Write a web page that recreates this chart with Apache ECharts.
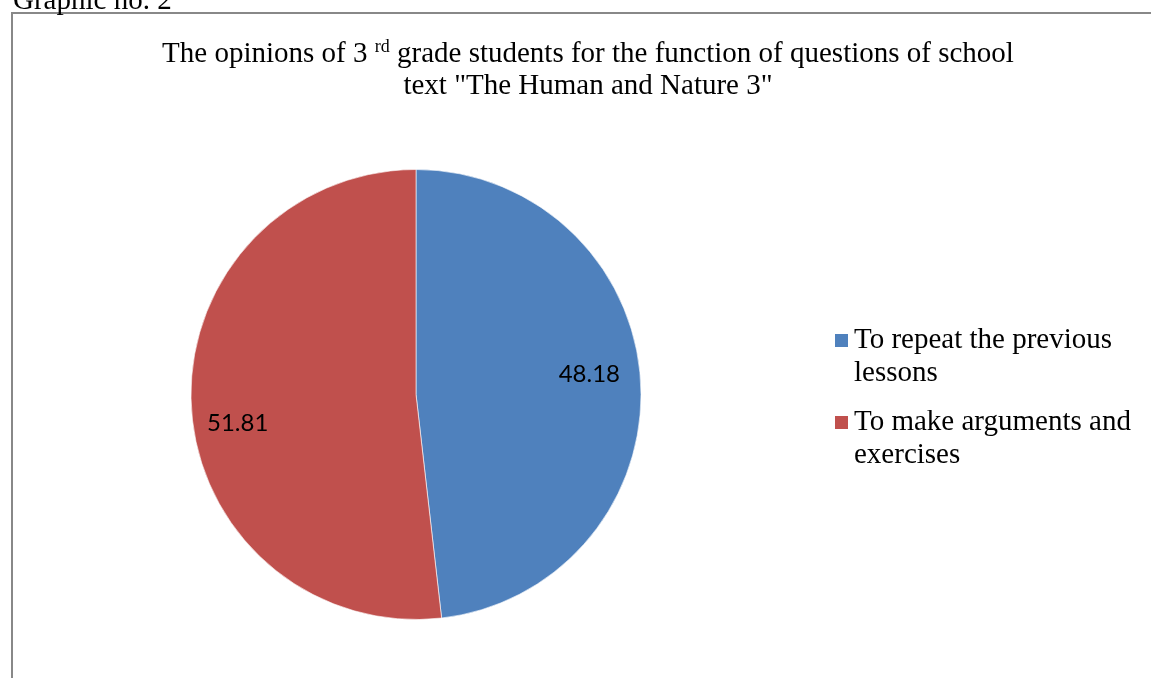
<!DOCTYPE html>
<html>
<head>
<meta charset="utf-8">
<script src="https://cdn.jsdelivr.net/npm/echarts@6/dist/echarts.min.js"></script>
<style>
html,body{margin:0;padding:0;background:#fff;}
#c{width:1151px;height:678px;}
</style>
</head>
<body>
<div id="c"></div>
<script>
const categories = ['To repeat the previous lessons', 'To make arguments and exercises'];
const values = [48.18, 51.81];
const colors = ['#4F81BD', '#C0504D'];
const labelOffsets = [[58, -14], [-63, 22]];

const chart = echarts.init(document.getElementById('c'));
const serif = '"Liberation Serif", "Times New Roman", serif';

chart.setOption({
  animation: false,
  backgroundColor: '#fff',
  title: {
    text: 'The opinions of 3 {sup|rd} grade students for the function of questions of school\ntext "The Human and Nature 3"',
    left: 588,
    top: 38,
    textAlign: 'center',
    padding: 0,
    textStyle: {
      fontFamily: serif,
      fontSize: 29,
      fontWeight: 'normal',
      color: '#000',
      lineHeight: 32,
      rich: {
        sup: { fontFamily: serif, fontSize: 18, verticalAlign: 'top', lineHeight: 32, color: '#000', padding: [0, 0, 10, 0] }
      }
    }
  },
  graphic: [
    {
      type: 'text', left: 13, top: -13,
      style: { text: 'Graphic no. 2', font: '29px ' + serif, fill: '#000' }
    },
    {
      type: 'rect', shape: { x: 12, y: 13, width: 1200, height: 700 },
      style: { fill: 'none', stroke: '#888', lineWidth: 2 }, silent: true, z: -1
    }
  ],
  legend: {
    orient: 'vertical',
    left: 833,
    top: 291,
    padding: 0,
    itemWidth: 15,
    itemHeight: 15,
    itemGap: -17,
    icon: 'rect',
    formatter: n => '\n' + n,
    textStyle: {
      fontFamily: serif,
      fontSize: 29,
      color: '#000',
      lineHeight: 33,
      width: 300,
      overflow: 'break'
    },
    data: categories
  },
  series: [{
    type: 'pie',
    center: [416, 394.5],
    radius: 225,
    startAngle: 90,
    clockwise: true,
    avoidLabelOverlap: false,
    itemStyle: { borderColor: '#fff', borderWidth: 0.6 },
    label: {
      show: true,
      position: 'inside',
      formatter: p => p.value.toFixed(2),
      fontFamily: 'Lato, "Open Sans", sans-serif',
      fontSize: 24,
      color: '#000'
    },
    labelLine: { show: false },
    emphasis: { disabled: true },
    data: categories.map((n, i) => ({
      name: n, value: values[i],
      itemStyle: { color: colors[i] },
      label: { offset: labelOffsets[i] }
    }))
  }]
});
</script>
</body>
</html>
